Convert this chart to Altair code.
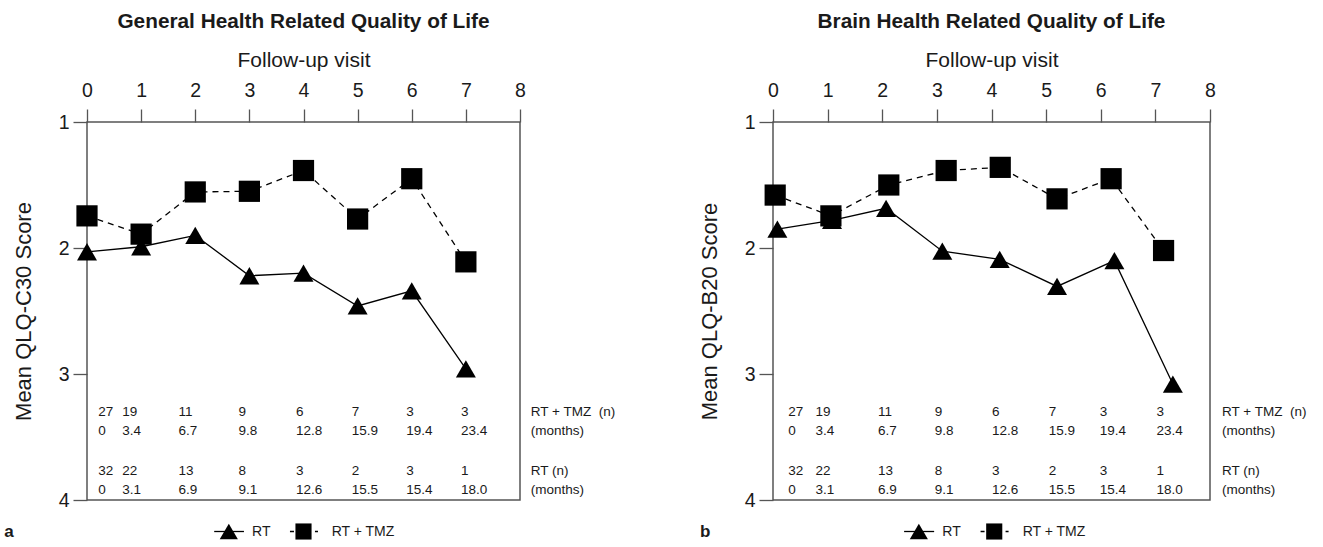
import altair as alt
import pandas as pd

# ---------------- data ----------------
visits = [0, 1, 2, 3, 4, 5, 6, 7]
axis_ticks = [0, 1, 2, 3, 4, 5, 6, 7, 8]
score_ticks = [1, 2, 3, 4]
series_names = ["RT", "RT + TMZ"]

general_rt = [2.03, 1.99, 1.90, 2.22, 2.20, 2.46, 2.34, 2.96]
general_tmz = [1.745, 1.89, 1.555, 1.55, 1.385, 1.77, 1.45, 2.11]

brain_rt_visit = [0.08, 1.08, 2.07, 3.10, 4.15, 5.20, 6.25, 7.32]
brain_tmz_visit = [0.04, 1.06, 2.12, 3.17, 4.16, 5.20, 6.19, 7.15]
brain_rt = [1.85, 1.78, 1.685, 2.025, 2.09, 2.305, 2.10, 3.08]
brain_tmz = [1.58, 1.745, 1.50, 1.385, 1.36, 1.61, 1.45, 2.02]

n_rt_tmz = ["27", "19", "11", "9", "6", "7", "3", "3"]
months_rt_tmz = ["0", "3.4", "6.7", "9.8", "12.8", "15.9", "19.4", "23.4"]
n_rt = ["32", "22", "13", "8", "3", "2", "3", "1"]
months_rt = ["0", "3.1", "6.9", "9.1", "12.6", "15.5", "15.4", "18.0"]
row_labels = ["RT + TMZ\u00a0\u00a0(n)", "(months)", "RT (n)", "(months)"]

# ---------------- layout (positions in data units) ----------------
LEFT_COLS = [0.21, 0.65, 1.69, 2.80, 3.86, 4.89, 5.90, 6.91]
RIGHT_COLS = [0.28, 0.78, 1.92, 2.96, 4.01, 5.05, 5.98, 7.02]
ROW_Y = [3.30, 3.45, 3.77, 3.92]
LEG_Y = 4.25
LEFT_LEG = dict(l0=2.35, l1=2.90, tri=2.62, rt=3.05, d0=3.75, d1=4.30, sq=4.00, tmz=4.52)
RIGHT_LEG = dict(l0=2.40, l1=2.95, tri=2.67, rt=3.10, d0=3.80, d1=4.35, sq=4.05, tmz=4.57)

FONT = "Liberation Sans"
INK = "#1a1a1a"
FRAME = "#555555"


def panel(title, ytitle, x_rt, y_rt, x_tmz, y_tmz, cols, lab_x, leg, letter, letter_x, width):
    xsc = alt.Scale(domain=[0, 8], nice=False, zero=False)
    ysc = alt.Scale(domain=[1, 4], reverse=True, nice=False, zero=False)
    xaxis = alt.Axis(orient="top", values=axis_ticks, format="d", title="Follow-up visit",
                     domain=False, ticks=True, tickSize=13, tickColor=FRAME, tickWidth=1.3,
                     labelFontSize=19.5, labelPadding=9, labelColor=INK, labelFont=FONT,
                     titleFontSize=21, titleFontWeight="normal", titlePadding=10,
                     titleColor=INK, titleFont=FONT, grid=False, labelFlush=False)
    yaxis = alt.Axis(orient="left", values=score_ticks, format="d", title=ytitle,
                     domain=False, ticks=True, tickSize=14, tickColor=FRAME, tickWidth=1.3,
                     labelFontSize=19.5, labelPadding=4, labelColor=INK, labelFont=FONT,
                     titleFontSize=22, titleFontWeight="normal", titleX=-64,
                     titleBaseline="middle",
                     titleColor=INK, titleFont=FONT, grid=False, labelFlush=False)
    X = alt.X("x:Q", scale=xsc, axis=xaxis)
    Y = alt.Y("y:Q", scale=ysc, axis=yaxis)

    rt = pd.DataFrame({"x": x_rt, "y": y_rt, "s": series_names[0]})
    tmz = pd.DataFrame({"x": x_tmz, "y": y_tmz, "s": series_names[1]})

    line_rt = alt.Chart(rt).mark_line(color="black", strokeWidth=1.3).encode(x=X, y=Y)
    line_tmz = alt.Chart(tmz).mark_line(color="black", strokeWidth=1.3,
                                         strokeDash=[6, 5]).encode(x=X, y=Y)
    tri = alt.Chart(rt).mark_point(shape="triangle-up", filled=True, size=400,
                                   color="black", opacity=1).encode(x=X, y=Y)
    sq = alt.Chart(tmz).mark_point(shape="square", filled=True, size=450,
                                   color="black", opacity=1).encode(x=X, y=Y)

    rows = []
    for vals, ry in zip([n_rt_tmz, months_rt_tmz, n_rt, months_rt], ROW_Y):
        for cx, v in zip(cols, vals):
            rows.append({"x": cx, "y": ry, "t": v})
    for lab, ry in zip(row_labels, ROW_Y):
        rows.append({"x": lab_x, "y": ry, "t": lab})
    table = alt.Chart(pd.DataFrame(rows)).mark_text(
        align="left", baseline="middle", fontSize=13.5, font=FONT, color=INK
    ).encode(x=X, y=Y, text="t:N")

    # legend drawn below the frame
    leg_line = alt.Chart(pd.DataFrame({"x": [leg["l0"]], "x2": [leg["l1"]], "y": [LEG_Y]})).mark_rule(
        color="black", strokeWidth=1.3).encode(x=X, x2="x2:Q", y=Y)
    leg_dash = alt.Chart(pd.DataFrame({"x": [leg["d0"]], "x2": [leg["d1"]], "y": [LEG_Y]})).mark_rule(
        color="black", strokeWidth=1.3, strokeDash=[4, 21, 3, 5, 1.5, 100]).encode(x=X, x2="x2:Q", y=Y)
    leg_tri = alt.Chart(pd.DataFrame({"x": [leg["tri"]], "y": [LEG_Y]})).mark_point(
        shape="triangle-up", filled=True, size=330, color="black", opacity=1).encode(x=X, y=Y)
    leg_sq = alt.Chart(pd.DataFrame({"x": [leg["sq"]], "y": [LEG_Y]})).mark_point(
        shape="square", filled=True, size=260, color="black", opacity=1).encode(x=X, y=Y)
    leg_txt = alt.Chart(pd.DataFrame({"x": [leg["rt"], leg["tmz"]], "y": [LEG_Y, LEG_Y],
                                      "t": series_names})).mark_text(
        align="left", baseline="middle", fontSize=14, font=FONT, color=INK
    ).encode(x=X, y=Y, text="t:N")
    let = alt.Chart(pd.DataFrame({"x": [letter_x], "y": [LEG_Y], "t": [letter]})).mark_text(
        align="left", baseline="middle", fontSize=17, fontWeight="bold", font=FONT, color=INK
    ).encode(x=X, y=Y, text="t:N")

    return alt.layer(line_rt, line_tmz, tri, sq, table, leg_line, leg_dash, leg_tri, leg_sq,
                     leg_txt, let).properties(
        width=width, height=378,
        title=alt.TitleParams(title, fontSize=20.8, fontWeight="bold", font=FONT, color=INK,
                              anchor="middle", frame="group", offset=16),
    )


left = panel("General Health Related Quality of Life", "Mean QLQ-C30 Score",
             visits, general_rt, visits, general_tmz, LEFT_COLS, 8.2,
             LEFT_LEG, "a", -1.53, 433)
right = panel("Brain Health Related Quality of Life", "Mean QLQ-B20 Score",
              brain_rt_visit, brain_rt, brain_tmz_visit, brain_tmz, RIGHT_COLS, 8.22,
              RIGHT_LEG, "b", -1.337, 437)

chart = alt.hconcat(left, right, spacing=253, bounds="flush").properties(
    padding={"left": 3, "top": 10, "right": 5, "bottom": 0},
    background="white",
).configure_view(stroke=FRAME, strokeWidth=1.5)

chart.save("out.html", embed_options={"renderer": "svg", "actions": False})
